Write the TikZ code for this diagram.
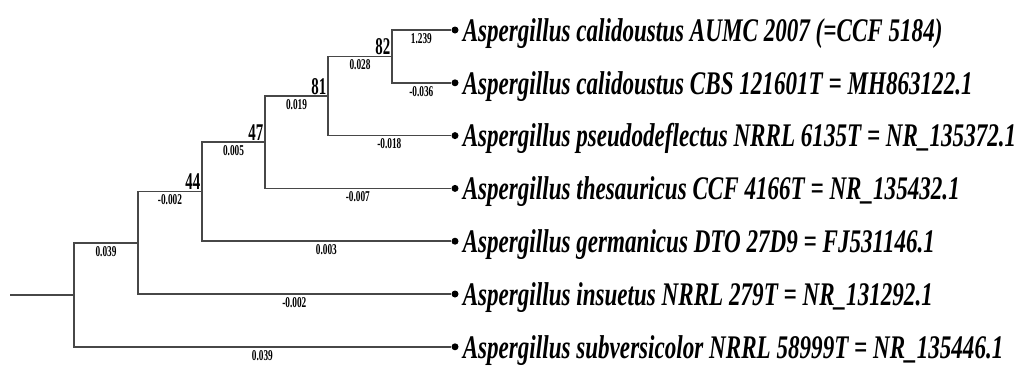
\documentclass[tikz,border=0pt]{standalone}
\usepackage{fontspec}
\newfontfamily\taxonfont{Liberation Serif}[FakeStretch=0.7]
\newfontfamily\valuefont{Liberation Serif}[FakeStretch=0.62]
\usetikzlibrary{positioning}

\begin{document}
\begin{tikzpicture}[
        x=1pt, y=-1pt,
        line width=1.5pt,
        branch/.style={draw=black!72},
        tip/.style={circle, fill=black, inner sep=0pt, minimum size=7pt},
        taxon/.style={
            anchor=base west,
            xshift=7pt, yshift=-11.3pt,
            inner sep=0pt,
            font=\taxonfont\bfseries\itshape\fontsize{33}{33}\selectfont
        },
        blen/.style={below=2pt, inner sep=0.5pt, font=\valuefont\bfseries\fontsize{15}{15}\selectfont},
        boot/.style={anchor=south east, inner sep=1pt, font=\valuefont\bfseries\fontsize{24}{24}\selectfont}
    ]
        \useasboundingbox (0,0) rectangle (1021,365);

        % inner nodes
        \coordinate (root) at (10,295);
        \coordinate (nA) at (74,295);
        \coordinate (nB) at (138,242.9);
        \coordinate (nC) at (202,191.7);
        \coordinate (nD) at (265,142.2);
        \coordinate (nE) at (328,96);
        \coordinate (nF) at (392,56.4);

        % tips
        \node[tip] (calAUMC) at (455,30) {};
        \node[tip] (calCBS) at (455,82.8) {};
        \node[tip] (pseudo) at (455,135.6) {};
        \node[tip] (thes) at (455,188.4) {};
        \node[tip] (germ) at (455,241.2) {};
        \node[tip] (insu) at (455,294) {};
        \node[tip] (subv) at (455,346.8) {};

        \node[taxon] (tAUMC) at (calAUMC) {Aspergillus calidoustus AUMC 2007 (=CCF 5184)};
        \node[taxon] (tCBS) at (calCBS) {Aspergillus calidoustus CBS 121601T = MH863122.1};
        \node[taxon] (tpseudo) at (pseudo) {Aspergillus pseudodeflectus NRRL 6135T = NR\_135372.1};
        \node[taxon] (tthes) at (thes) {Aspergillus thesauricus CCF 4166T = NR\_135432.1};
        \node[taxon] (tgerm) at (germ) {Aspergillus germanicus DTO 27D9 = FJ531146.1};
        \node[taxon] (tinsu) at (insu) {Aspergillus insuetus NRRL 279T = NR\_131292.1};
        \node[taxon] (tsubv) at (subv) {Aspergillus subversicolor NRRL 58999T = NR\_135446.1};

        % branches
        \draw[branch] (root) -- (nA);
        \draw[branch] (nA) |- node[blen, pos=0.75]{0.039} (nB);
        \draw[branch] (nA) |- node[blen, pos=0.75]{0.039} (subv);
        \draw[branch] (nB) |- node[blen, pos=0.75]{-0.002} (nC);
        \draw[branch] (nB) |- node[blen, pos=0.75]{-0.002} (insu);
        \draw[branch] (nC) |- node[blen, pos=0.75]{0.005} (nD);
        \draw[branch] (nC) |- node[blen, pos=0.75]{0.003} (germ);
        \draw[branch] (nD) |- node[blen, pos=0.75]{0.019} (nE);
        \draw[branch] (nD) |- node[blen, pos=0.75]{-0.007} (thes);
        \draw[branch] (nE) |- node[blen, pos=0.75]{0.028} (nF);
        \draw[branch] (nE) |- node[blen, pos=0.75]{-0.018} (pseudo);
        \draw[branch] (nF) |- node[blen, pos=0.75]{1.239} (calAUMC);
        \draw[branch] (nF) |- node[blen, pos=0.75]{-0.036} (calCBS);

        % bootstrap values
        \node[boot] (bC) at (nC) {44};
        \node[boot] (bD) at (nD) {47};
        \node[boot] (bE) at (nE) {81};
        \node[boot] (bF) at (nF) {82};
    \end{tikzpicture}
\end{document}
